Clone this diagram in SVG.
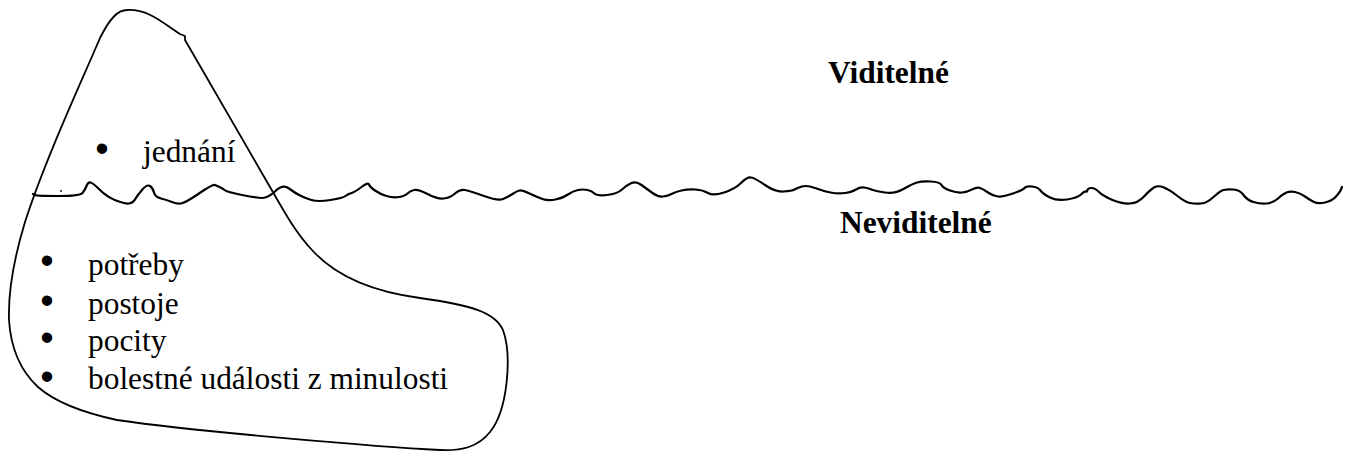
<svg xmlns="http://www.w3.org/2000/svg" width="1346" height="452" viewBox="0 0 1346 452">
  <style>
    .outline { fill: none; stroke: #000; stroke-width: 1.8; stroke-linejoin: round; stroke-linecap: round; }
    .wave { fill: none; stroke: #000; stroke-width: 2.2; stroke-linejoin: round; stroke-linecap: round; }
    .item { font-family: "Liberation Serif", "Times New Roman", serif; font-size: 31.4px; fill: #000; }
    .bullet { font-family: "Liberation Sans", Arial, sans-serif; font-size: 31.4px; fill: #000; stroke: #000; stroke-width: 1.8; text-anchor: middle; }
    .label { font-family: "Liberation Serif", "Times New Roman", serif; font-size: 31.4px; font-weight: bold; fill: #000; }
  </style>
  <rect width="1346" height="452" fill="#fff"/>

  <!-- iceberg outline -->
  <g id="iceberg">
    <path class="outline" d="M127 10 C150 9 165 25 180 34 L185 36 L185 40 L270 187 C282 208 295 232 312 250 C330 270 360 290 420 298 C470 305 495 312 503 330 C512 355 508 410 490 432 C478 447 462 451 440 450 C380 447 200 432 117 420 C80 412 55 402 38 387 C24 374 11 352 9 320 C8 290 15 255 25 222 C45 160 80 85 100 38 C110 18 118 10 127 10 Z"/>
  </g>

  <!-- water surface -->
  <g id="connectors">
    <path class="wave" d="M33 194 L35 195 Q37 196 58.5 196 Q80 196 82.5 193 Q85 190 86.5 186 Q88 182 90.5 182.5 Q93 183 100 190 Q107 197 116 200.5 Q125 204 129 203.5 Q133 203 135 199.5 Q137 196 142 190 Q147 184 150 186 Q153 188 154 192.5 Q155 197 161 198.5 Q167 200 172 202 Q177 204 181 203.5 Q185 203 199 193.5 Q213 184 215 185 Q217 186 219.5 187 Q222 188 224.5 190 Q227 192 242 195 Q257 198 262.5 198 Q268 198 275.5 191 Q283 184 289 188.5 Q295 193 300 195.5 Q305 198 311.5 200 Q318 202 330.5 200 Q343 198 345.5 196 Q348 194 351.5 193 Q355 192 361.5 187 Q368 182 369 184.5 Q370 187 375 190.5 Q380 194 386.5 196 Q393 198 399 197 Q405 196 407.5 193.5 Q410 191 414 190 Q418 189 427.5 194 Q437 199 443.5 198.5 Q450 198 455 193.5 Q460 189 465 190 Q470 191 484 196 Q498 201 503 199 Q508 197 512.5 194 Q517 191 519.5 190.5 Q522 190 529.5 193.5 Q537 197 542.5 199 Q548 201 555.5 199.5 Q563 198 568 194.5 Q573 191 578 190 Q583 189 587.5 190 Q592 191 594.5 193.5 Q597 196 607 195 Q617 194 622 189.5 Q627 185 631.5 183 Q636 181 641.5 185 Q647 189 652.5 193 Q658 197 663 196.5 Q668 196 671.5 194 Q675 192 681.5 190.5 Q688 189 695.5 189.5 Q703 190 708 193 Q713 196 724 192.5 Q735 189 741 183 Q747 177 751 177.5 Q755 178 765 185 Q775 192 783.5 191.5 Q792 191 794.5 189.5 Q797 188 802 186.5 Q807 185 815 188 Q823 191 830.5 192.5 Q838 194 845 193 Q852 192 856 189.5 Q860 187 864 187.5 Q868 188 871.5 189.5 Q875 191 885 192.5 Q895 194 903.5 189 Q912 184 917 182.5 Q922 181 931 181.5 Q940 182 941.5 185 Q943 188 950 190.5 Q957 193 962 192.5 Q967 192 972 189.5 Q977 187 980 188 Q983 189 988 192.5 Q993 196 998 196.5 Q1003 197 1013 193.5 Q1023 190 1024.5 188 Q1026 186 1032 186.5 Q1038 187 1040.5 190.5 Q1043 194 1050 197.5 Q1057 201 1067 199.5 Q1077 198 1081 194.5 Q1085 191 1086 191.5 Q1087 192 1087.5 190 Q1088 188 1091.5 188 Q1095 188 1099 192 Q1103 196 1112.5 200 Q1122 204 1130 203.5 Q1138 203 1144 196.5 Q1150 190 1154 187.5 Q1158 185 1164 187.5 Q1170 190 1177.5 196 Q1185 202 1190 203 Q1195 204 1201 203.5 Q1207 203 1213.5 197 Q1220 191 1223.5 190 Q1227 189 1233.5 189.5 Q1240 190 1243.5 195 Q1247 200 1253.5 202 Q1260 204 1266.5 203.5 Q1273 203 1278 198.5 Q1283 194 1286.5 192.5 Q1290 191 1295 192 Q1300 193 1305 196.5 Q1310 200 1314 202 Q1318 204 1325 202.5 Q1332 201 1336 196.5 Q1340 192 1341 189.5 L1342 187"/>
    <circle cx="61" cy="191" r="0.9" fill="#000"/>
  </g>

  <!-- visible part -->
  <g id="visible-list">
    <text class="bullet" x="102" y="159">•</text>
    <text class="item" x="143" y="162">jednání</text>
  </g>

  <!-- hidden part -->
  <g id="hidden-list">
    <text class="bullet" x="47" y="271">•</text>
    <text class="item" x="88" y="275">potřeby</text>
    <text class="bullet" x="47" y="311">•</text>
    <text class="item" x="88" y="314">postoje</text>
    <text class="bullet" x="47" y="348">•</text>
    <text class="item" x="88" y="351">pocity</text>
    <text class="bullet" x="47" y="387">•</text>
    <text class="item" x="88" y="389">bolestné události z minulosti</text>
  </g>

  <g id="label-visible">
    <text class="label" x="828" y="83">Viditelné</text>
  </g>
  <g id="label-hidden">
    <text class="label" x="840" y="233">Neviditelné</text>
  </g>
</svg>
